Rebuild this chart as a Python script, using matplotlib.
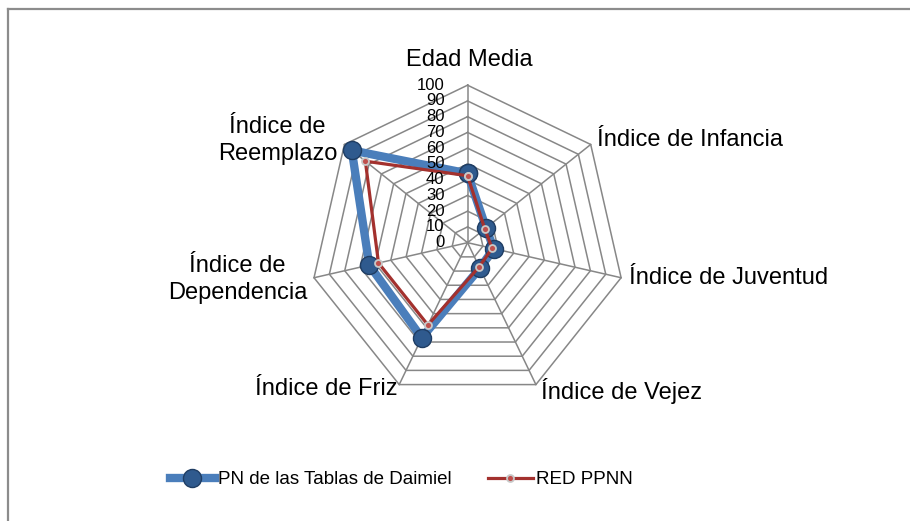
import numpy as np
import matplotlib
matplotlib.use('Agg')
import matplotlib.pyplot as plt
from matplotlib.lines import Line2D

# data
categories = ['Edad Media', 'Índice de Infancia', 'Índice de Juventud', 'Índice de Vejez',
              'Índice de Friz', 'Índice de\nDependencia', 'Índice de\nReemplazo']
daimiel = [44, 15, 17, 18, 67, 64, 94]
red_ppnn = [42.5, 14, 16, 17, 58, 58, 83]
rings = [10, 20, 30, 40, 50, 60, 70, 80, 90, 100]
tick_labels = ['0', '10', '20', '30', '40', '50', '60', '70', '80', '90', '100']
tick_values = [0, 10, 20, 30, 40, 50, 60, 70, 80, 90, 100]

plt.rcParams['font.family'] = ['Liberation Sans', 'DejaVu Sans']

fig = plt.figure(figsize=(9.1, 5.21), dpi=100)
ax = fig.add_axes([0.3407, 0.2319, 0.3462, 0.6046], projection='polar')
ax.set_theta_offset(np.pi / 2)
ax.set_theta_direction(-1)
ax.set_ylim(0, 100)
ax.axis('off')

n = len(categories)
angles = np.linspace(0, 2 * np.pi, n, endpoint=False)
closed = np.append(angles, angles[0])

# heptagon grid and spokes
grid_col = '#878787'
for r in rings:
    ax.plot(closed, [r] * (n + 1), color=grid_col, lw=1.1, zorder=1, clip_on=False)
for a in angles:
    ax.plot([a, a], [0, 100], color=grid_col, lw=1.1, zorder=1, clip_on=False)

# series
ax.plot(closed, daimiel + daimiel[:1], color='#4A7EBB', lw=6, zorder=3,
        marker='o', markersize=13, markerfacecolor='#2F5A8E', markeredgecolor='#1F3D63',
        markeredgewidth=1, clip_on=False, label='PN de las Tablas de Daimiel')
ax.plot(closed, red_ppnn + red_ppnn[:1], color='#A3312E', lw=2.3, zorder=4,
        marker='o', markersize=5, markerfacecolor='#C0504D', markeredgecolor='#C8C8C8',
        markeredgewidth=1.3, clip_on=False, label='RED PPNN')

# radial tick labels
for v, t in zip(tick_values, tick_labels):
    ax.annotate(t, xy=(0, v), xytext=(-23, 0), textcoords='offset pixels',
                ha='right', va='center', fontsize=12, color='black', zorder=5)

# category labels
offsets = [(2, 25, 'center'), (6, 4, 'left'), (8, 0, 'left'), (5, -6, 'left'),
           (-2, -4, 'right'), (-7, -2, 'right'), (-7, 4, 'right')]
for a, lab, (dx, dy, ha) in zip(angles, categories, offsets):
    ax.annotate(lab, xy=(a, 100), xytext=(dx, dy), textcoords='offset pixels',
                ha=ha, va='center', multialignment='center', linespacing=1.3,
                fontsize=17, color='black')

fig.legend(loc='center', bbox_to_anchor=(0.441, 0.079), ncol=2, frameon=False,
           fontsize=13.5, handlelength=2.4, handletextpad=0.2, columnspacing=1.9)

# chart border (top and left visible)
fig.add_artist(Line2D([8 / 910, 8 / 910], [0, 1 - 9 / 521], color='#8C8C8C', lw=1.6,
                      transform=fig.transFigure))
fig.add_artist(Line2D([8 / 910, 1], [1 - 9 / 521, 1 - 9 / 521], color='#8C8C8C', lw=1.6,
                      transform=fig.transFigure))

fig.savefig('out.png', dpi=100)
